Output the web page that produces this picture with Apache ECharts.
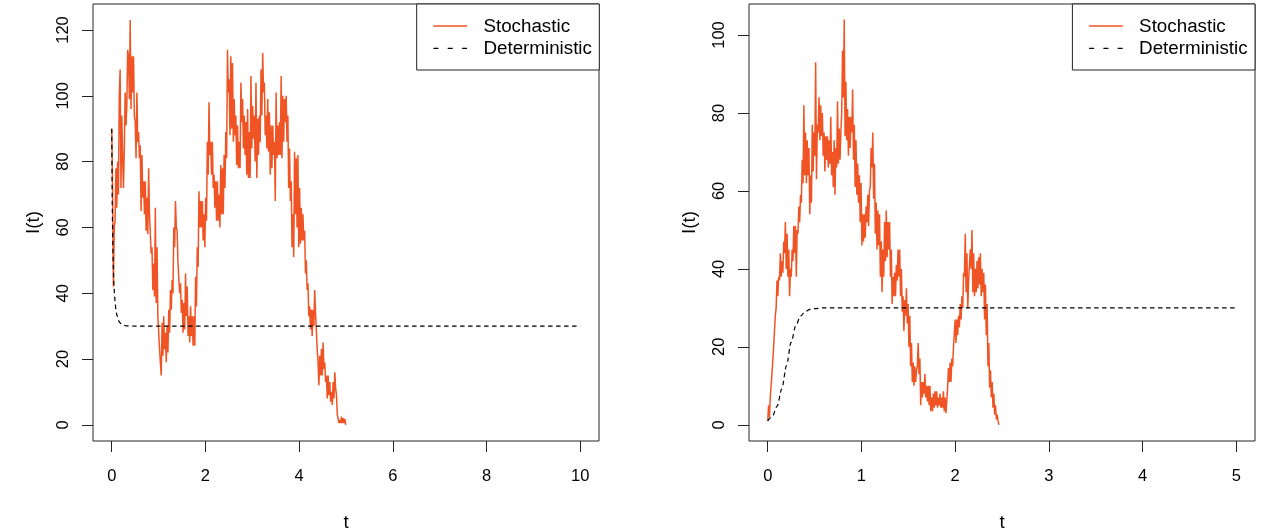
<!DOCTYPE html>
<html><head><meta charset="utf-8">
<script src="https://cdn.jsdelivr.net/npm/echarts@6/dist/echarts.min.js"></script>
<style>html,body{margin:0;padding:0;background:#fff}#c{width:1266px;height:532px}</style>
</head><body><div id="c"></div>
<script>
// ---------- tick labels ----------
const leftXTicks = [0, 2, 4, 6, 8, 10];
const leftYTicks = [0, 20, 40, 60, 80, 100, 120];
const rightXTicks = [0, 1, 2, 3, 4, 5];
const rightYTicks = [0, 20, 40, 60, 80, 100];
const seriesNames = ['Stochastic', 'Deterministic'];
const xTitle = 't';
const yTitle = 'I(t)';

// ---------- left panel: stochastic path, read at a fixed time step ----------
const leftStochT0 = 0;
const leftStochDt = 0.0179;
const leftStoch = [
  90, 72, 42, 60, 62, 78, 66, 80, 70, 100, 108, 72, 94, 81, 72, 84, 101, 91, 97, 114,
  112, 99, 123, 96, 112, 101, 112, 94, 92, 81, 101, 86, 89, 81, 85, 65, 82, 69, 74, 64,
  74, 59, 69, 58, 78, 64, 64, 52, 54, 41, 49, 39, 66, 37, 54, 33, 33, 23, 23, 15,
  31, 21, 33, 23, 28, 19, 30, 22, 35, 28, 41, 35, 44, 40, 60, 54, 68, 60, 59, 49,
  49, 40, 43, 34, 38, 28, 37, 29, 46, 33, 42, 27, 33, 25, 36, 27, 33, 24, 33, 24,
  45, 36, 54, 48, 71, 60, 68, 60, 68, 56, 64, 54, 69, 62, 86, 76, 98, 82, 86, 76,
  86, 72, 76, 66, 74, 62, 74, 62, 70, 60, 79, 64, 78, 64, 82, 72, 89, 81,
  114, 101, 105, 88, 112, 90, 110, 86, 99, 88, 94, 79, 91, 78, 86, 78, 104, 92, 99, 84,
  94, 82, 92, 76, 96, 75, 89, 75, 106, 84, 97, 87, 94, 80, 104, 75, 93, 82, 94, 86,
  108, 94, 113, 101, 104, 88, 94, 84, 99, 83, 95, 76, 91, 78, 91, 82, 86, 68, 101, 81,
  91, 82, 92, 82, 106, 81, 100, 86, 99, 92, 100, 86, 94, 72, 84, 68, 74, 54, 64, 51,
  83, 64, 81, 60, 82, 54, 72, 55, 66, 56, 64, 56, 59, 46, 50, 41, 43, 33, 36, 29,
  35, 27, 35, 30, 41, 34, 34, 23, 19, 12, 21, 15, 23, 15, 25, 17, 19, 13, 15, 8,
  15, 9, 13, 7, 10, 6, 13, 8, 16, 11, 9, 3, 3, 0.5, 1.5, 0.5, 2.5, 0.5, 2, 0.5, 1.8, 0
];

// ---------- left panel: deterministic curve ----------
const leftDetT = [0, 0.01, 0.02, 0.03, 0.04, 0.05, 0.075, 0.1, 0.15, 0.2, 0.3, 0.5, 10];
const leftDetV = [90, 68.1, 56.6, 49.5, 44.8, 41.5, 36.6, 33.9, 31.5, 30.6, 30.1, 30, 30];

// ---------- right panel: stochastic path, read at a fixed time step ----------
const rightStochT0 = 0;
const rightStochDt = 0.00897;
const rightStoch = [
  1, 5, 2, 7, 7, 13, 13, 20, 20, 28, 30, 37, 33, 38, 37, 44, 38, 42, 39, 47,
  44, 52, 40, 49, 38, 45, 33, 40, 38, 45, 42, 51, 44, 51, 38, 50, 49, 56, 52, 59,
  57, 68, 62, 82, 64, 75, 62, 73, 64, 71, 54, 64, 57, 77, 65, 75, 69, 93, 63, 77,
  75, 84, 73, 82, 74, 80, 69, 75, 65, 74, 68, 74, 66, 73, 67, 79, 64, 70, 61, 73,
  59, 71, 66, 83, 67, 76, 68, 75, 80, 96, 84, 104, 74, 88, 73, 81, 69, 79, 71, 79,
  75, 86, 68, 77, 61, 73, 59, 67, 57, 64, 52, 62, 46, 54, 47, 54, 48, 56, 52, 59,
  51, 60, 61, 71, 66, 75, 58, 67, 49, 57, 45, 55, 46, 54, 38, 47, 34, 45,
  38, 52, 42, 55, 43, 52, 45, 52, 38, 45, 31, 38, 33, 39, 33, 41, 37, 45, 38, 45,
  33, 40, 29, 33, 24, 32, 28, 35, 26, 31, 20, 28, 15, 21, 11, 16, 10, 15, 11, 14,
  15, 21, 13, 17, 5, 11, 7, 11, 8, 13, 7, 10, 6, 10, 5, 10, 3.5, 7, 3.5, 8,
  4.4, 8.6, 5, 8.6, 4.4, 7, 5, 8, 4.4, 7, 4.4, 8.6, 3.5, 7, 3, 6, 9.5, 14.6, 11, 16,
  11, 17, 15, 20, 20, 27, 21, 27, 23, 28, 25, 31, 27, 33, 30, 39, 38, 49, 34, 44,
  30, 37, 37, 45, 40, 50, 34, 44, 33, 40, 34, 42, 35, 43, 36, 44, 33, 40, 34, 39,
  27, 36, 23, 31, 15, 21, 9.5, 14, 7, 11, 4.4, 8, 2.6, 5, 1.4, 2.6, 1, 0
];

// ---------- right panel: deterministic curve ----------
const rightDetT = [0, 0.05, 0.1, 0.15, 0.2, 0.25, 0.3, 0.35, 0.4, 0.45, 0.5, 0.6, 5];
const rightDetV = [1, 2.2, 4.8, 9.2, 15.2, 21.2, 25.5, 27.9, 29.1, 29.6, 29.8, 30, 30];

// ---------- styling ----------
const FONT = "'Liberation Sans', Arial, Helvetica, sans-serif";
const ORANGE = '#F05424';
const INK = '#222';

function stepPairs(t0, dt, vals) { return vals.map((v, i) => [t0 + i * dt, v]); }
function zip(ts, vs) { return ts.map((t, i) => [t, vs[i]]); }

function makeX(gi, min, max, ticks) {
  return {
    type: 'value', gridIndex: gi, min: min, max: max,
    name: xTitle, nameLocation: 'middle', nameGap: 72,
    nameTextStyle: { fontFamily: FONT, fontSize: 18.8, color: '#000' },
    axisLine: { show: false, onZero: false },
    axisTick: { show: true, inside: false, length: 11, customValues: ticks, lineStyle: { color: INK, width: 1 } },
    axisLabel: { show: true, customValues: ticks, margin: 27, fontFamily: FONT, fontSize: 16.5, color: '#000' },
    splitLine: { show: false }
  };
}
function makeY(gi, min, max, ticks) {
  return {
    type: 'value', gridIndex: gi, min: min, max: max,
    name: yTitle, nameLocation: 'middle', nameGap: 50,
    nameTextStyle: { fontFamily: FONT, fontSize: 18.8, color: '#000' },
    axisLine: { show: false, onZero: false },
    axisTick: { show: true, inside: false, length: 11, customValues: ticks, lineStyle: { color: INK, width: 1 } },
    axisLabel: { show: true, customValues: ticks, rotate: 90, margin: 21, fontFamily: FONT, fontSize: 16.5, color: '#000' },
    splitLine: { show: false }
  };
}
// legend box drawn as graphic (R-style legend: box, line samples, labels)
function makeLegend(x) {
  return {
    type: 'group', x: x, y: 4, z: 100,
    children: [
      { type: 'rect', shape: { x: 0, y: 0, width: 182.6, height: 66 },
        style: { fill: '#fff', stroke: INK, lineWidth: 1 } },
      { type: 'line', shape: { x1: 16.7, y1: 22, x2: 50.4, y2: 22 },
        style: { stroke: ORANGE, lineWidth: 1.3 } },
      { type: 'line', shape: { x1: 16.7, y1: 44.3, x2: 50.4, y2: 44.3 },
        style: { stroke: '#000', lineWidth: 1.3, lineDash: [5, 9.3] } },
      { type: 'text', x: 66.7, y: 22.7,
        style: { text: seriesNames[0], fontFamily: FONT, fontSize: 18.8, fill: '#000', align: 'left', verticalAlign: 'middle' } },
      { type: 'text', x: 66.7, y: 44.7,
        style: { text: seriesNames[1], fontFamily: FONT, fontSize: 18.8, fill: '#000', align: 'left', verticalAlign: 'middle' } }
    ]
  };
}
function stochSeries(idx, data) {
  return { name: seriesNames[0], type: 'line', xAxisIndex: idx, yAxisIndex: idx, data: data,
    symbol: 'none', showSymbol: false, lineStyle: { color: ORANGE, width: 1.5 }, itemStyle: { color: ORANGE },
    emphasis: { disabled: true } };
}
function detSeries(idx, data, smooth) {
  return { name: seriesNames[1], type: 'line', xAxisIndex: idx, yAxisIndex: idx, data: data,
    symbol: 'none', showSymbol: false, smooth: smooth, smoothMonotone: 'x',
    lineStyle: { color: '#000', width: 1.2, type: [4.5, 3.5] }, itemStyle: { color: '#000' },
    emphasis: { disabled: true } };
}

const chart = echarts.init(document.getElementById('c'), null, { renderer: 'canvas', width: 1266, height: 532 });
chart.setOption({
  animation: false,
  backgroundColor: '#fff',
  textStyle: { fontFamily: FONT },
  grid: [
    { left: 93, top: 4, width: 506, height: 437, show: true, borderColor: INK, borderWidth: 1,
      backgroundColor: 'transparent', containLabel: false, outerBoundsMode: 'none' },
    { left: 749, top: 4, width: 506, height: 437, show: true, borderColor: INK, borderWidth: 1,
      backgroundColor: 'transparent', containLabel: false, outerBoundsMode: 'none' }
  ],
  xAxis: [ makeX(0, -0.4, 10.4, leftXTicks), makeX(1, -0.2, 5.2, rightXTicks) ],
  yAxis: [ makeY(0, -4.92, 127.9, leftYTicks), makeY(1, -4.15, 107.95, rightYTicks) ],
  graphic: [ makeLegend(416.7), makeLegend(1072.4) ],
  series: [
    stochSeries(0, stepPairs(leftStochT0, leftStochDt, leftStoch)),
    detSeries(0, zip(leftDetT, leftDetV), false),
    stochSeries(1, stepPairs(rightStochT0, rightStochDt, rightStoch)),
    detSeries(1, zip(rightDetT, rightDetV), 0.3)
  ]
});
</script></body></html>
